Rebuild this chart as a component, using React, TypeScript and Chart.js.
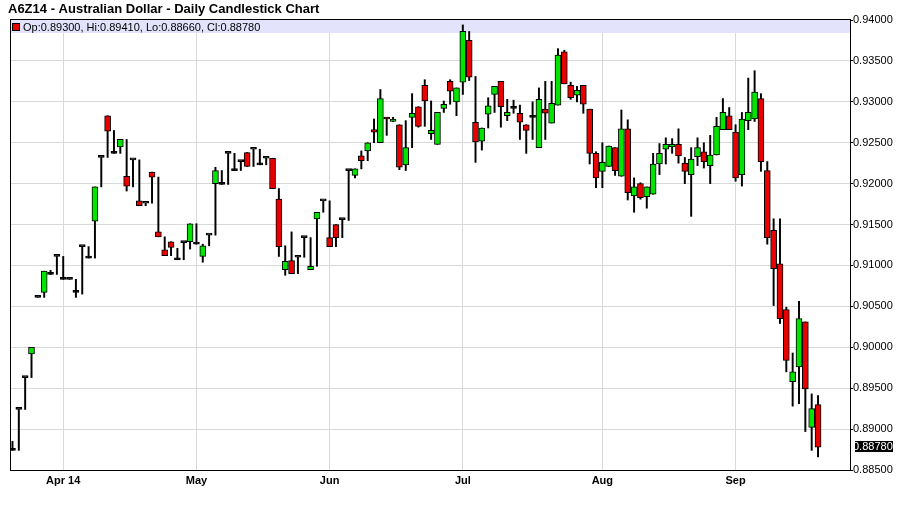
import React, { useEffect, useRef } from 'react';
import { Chart, registerables } from 'chart.js';

Chart.register(...registerables);

const chartTitle = 'A6Z14 - Australian Dollar - Daily Candlestick Chart';

const opens = [
  0.8874, 0.8924, 0.8963, 0.8992, 0.9061, 0.9067, 0.9089, 0.9111, 0.9083, 0.9083,
  0.9067, 0.9123, 0.9109, 0.9154, 0.9232, 0.9283, 0.9237, 0.9245, 0.9209, 0.9229,
  0.9179, 0.9176, 0.9214, 0.9141, 0.9119, 0.9129, 0.9107, 0.9128, 0.9129, 0.9126,
  0.9111, 0.9137, 0.9200, 0.9199, 0.9237, 0.9216, 0.9227, 0.9238, 0.9242, 0.9223,
  0.9231, 0.9231, 0.9181, 0.9095, 0.9106, 0.9110, 0.9134, 0.9095, 0.9157, 0.9179,
  0.9134, 0.9150, 0.9156, 0.9216, 0.9210, 0.9234, 0.9240, 0.9266, 0.9250, 0.9281,
  0.9276, 0.9272, 0.9223, 0.9281, 0.9294, 0.9320, 0.9261, 0.9248, 0.9292, 0.9325,
  0.9300, 0.9324, 0.9375, 0.9275, 0.9252, 0.9285, 0.9309, 0.9325, 0.9283, 0.9292,
  0.9286, 0.9272, 0.9281, 0.9244, 0.9291, 0.9274, 0.9296, 0.9361, 0.9320, 0.9308,
  0.9320, 0.9291, 0.9237, 0.9215, 0.9221, 0.9244, 0.9209, 0.9267, 0.9185, 0.9200,
  0.9184, 0.9187, 0.9224, 0.9242, 0.9245, 0.9248, 0.9225, 0.9211, 0.9233, 0.9239,
  0.9222, 0.9235, 0.9266, 0.9283, 0.9263, 0.9211, 0.9277, 0.9279, 0.9304, 0.9216,
  0.9143, 0.9102, 0.9046, 0.8958, 0.8976, 0.9031, 0.8902, 0.8930,
];

const highs = [
  0.8885, 0.8924, 0.8963, 0.9000, 0.9061, 0.9093, 0.9094, 0.9111, 0.9111, 0.9083,
  0.9083, 0.9123, 0.9123, 0.9196, 0.9232, 0.9283, 0.9265, 0.9254, 0.9254, 0.9229,
  0.9229, 0.9176, 0.9214, 0.9208, 0.9135, 0.9129, 0.9121, 0.9128, 0.9151, 0.9151,
  0.9126, 0.9137, 0.9220, 0.9216, 0.9237, 0.9237, 0.9227, 0.9238, 0.9242, 0.9242,
  0.9231, 0.9231, 0.9194, 0.9124, 0.9141, 0.9110, 0.9134, 0.9134, 0.9165, 0.9179,
  0.9179, 0.9150, 0.9156, 0.9216, 0.9218, 0.9240, 0.9250, 0.9279, 0.9315, 0.9281,
  0.9281, 0.9272, 0.9277, 0.9310, 0.9294, 0.9327, 0.9301, 0.9287, 0.9301, 0.9327,
  0.9317, 0.9394, 0.9386, 0.9331, 0.9268, 0.9305, 0.9319, 0.9325, 0.9303, 0.9302,
  0.9296, 0.9272, 0.9300, 0.9317, 0.9325, 0.9325, 0.9365, 0.9363, 0.9324, 0.9319,
  0.9320, 0.9291, 0.9239, 0.9250, 0.9246, 0.9244, 0.9290, 0.9278, 0.9207, 0.9201,
  0.9196, 0.9237, 0.9249, 0.9256, 0.9255, 0.9267, 0.9232, 0.9244, 0.9256, 0.9250,
  0.9259, 0.9281, 0.9304, 0.9293, 0.9272, 0.9287, 0.9329, 0.9338, 0.9310, 0.9227,
  0.9157, 0.9157, 0.9049, 0.8993, 0.9056, 0.9031, 0.8943, 0.8941,
];

const lows = [
  0.8874, 0.8874, 0.8924, 0.8963, 0.9061, 0.9061, 0.9089, 0.9089, 0.9083, 0.9083,
  0.9061, 0.9065, 0.9109, 0.9109, 0.9196, 0.9232, 0.9237, 0.9237, 0.9191, 0.9196,
  0.9173, 0.9173, 0.9176, 0.9135, 0.9112, 0.9112, 0.9107, 0.9107, 0.9120, 0.9126,
  0.9104, 0.9124, 0.9137, 0.9199, 0.9199, 0.9216, 0.9216, 0.9221, 0.9221, 0.9223,
  0.9223, 0.9194, 0.9111, 0.9088, 0.9090, 0.9090, 0.9110, 0.9095, 0.9099, 0.9165,
  0.9123, 0.9123, 0.9134, 0.9155, 0.9207, 0.9218, 0.9228, 0.9250, 0.9250, 0.9259,
  0.9276, 0.9217, 0.9216, 0.9244, 0.9269, 0.9270, 0.9254, 0.9248, 0.9287, 0.9297,
  0.9283, 0.9309, 0.9326, 0.9226, 0.9241, 0.9268, 0.9287, 0.9269, 0.9277, 0.9286,
  0.9254, 0.9237, 0.9254, 0.9244, 0.9254, 0.9274, 0.9296, 0.9322, 0.9303, 0.9300,
  0.9286, 0.9224, 0.9195, 0.9195, 0.9221, 0.9210, 0.9209, 0.9180, 0.9165, 0.9181,
  0.9170, 0.9187, 0.9211, 0.9224, 0.9237, 0.9225, 0.9200, 0.9160, 0.9222, 0.9219,
  0.9200, 0.9235, 0.9266, 0.9266, 0.9203, 0.9197, 0.9266, 0.9276, 0.9215, 0.9126,
  0.9051, 0.9029, 0.8970, 0.8928, 0.8931, 0.8897, 0.8874, 0.8866,
];

const closes = [
  0.8874, 0.8924, 0.8963, 0.9000, 0.9061, 0.9093, 0.9089, 0.9111, 0.9083, 0.9083,
  0.9067, 0.9123, 0.9109, 0.9196, 0.9232, 0.9264, 0.9237, 0.9254, 0.9197, 0.9229,
  0.9173, 0.9176, 0.9208, 0.9135, 0.9112, 0.9122, 0.9107, 0.9128, 0.9151, 0.9126,
  0.9124, 0.9137, 0.9216, 0.9199, 0.9237, 0.9216, 0.9227, 0.9221, 0.9242, 0.9223,
  0.9231, 0.9194, 0.9123, 0.9105, 0.9090, 0.9110, 0.9134, 0.9099, 0.9165, 0.9179,
  0.9123, 0.9134, 0.9156, 0.9216, 0.9218, 0.9228, 0.9250, 0.9263, 0.9304, 0.9279,
  0.9279, 0.9220, 0.9244, 0.9286, 0.9270, 0.9301, 0.9265, 0.9287, 0.9297, 0.9313,
  0.9317, 0.9386, 0.9330, 0.9251, 0.9268, 0.9295, 0.9319, 0.9294, 0.9287, 0.9292,
  0.9275, 0.9265, 0.9281, 0.9303, 0.9286, 0.9298, 0.9357, 0.9322, 0.9305, 0.9314,
  0.9297, 0.9237, 0.9207, 0.9226, 0.9246, 0.9216, 0.9267, 0.9189, 0.9196, 0.9183,
  0.9196, 0.9224, 0.9237, 0.9248, 0.9248, 0.9234, 0.9215, 0.9230, 0.9244, 0.9227,
  0.9235, 0.9270, 0.9287, 0.9266, 0.9207, 0.9279, 0.9287, 0.9312, 0.9227, 0.9134,
  0.9096, 0.9035, 0.8984, 0.8970, 0.9035, 0.8949, 0.8925, 0.8878,
];

const monthTickIndex = [8, 29, 50, 71, 93, 114];
const monthTickLabels = ['Apr 14', 'May', 'Jun', 'Jul', 'Aug', 'Sep'];
const priceTicks = [0.885, 0.89, 0.895, 0.9, 0.905, 0.91, 0.915, 0.92, 0.925, 0.93, 0.935, 0.94];

const GREEN = '#00e400';
const RED = '#e80000';
const GRID = '#d9d9d9';
const BAND = '#e3e3fb';
const FONT = "'Liberation Sans', Arial, sans-serif";

const overlayPlugin = {
  id: 'overlay',
  beforeDatasetsDraw(chart: any) {
    const { ctx, chartArea: a } = chart;
    ctx.save();
    ctx.fillStyle = BAND;
    ctx.fillRect(a.left, a.top, a.right - a.left, 13);
    ctx.restore();
  },
  afterDraw(chart: any) {
    const { ctx, chartArea: a, scales } = chart;
    const last = closes.length - 1;
    ctx.save();
    // frame
    ctx.strokeStyle = '#000';
    ctx.lineWidth = 1;
    ctx.strokeRect(Math.round(a.left) + 0.5, Math.round(a.top) - 0.5, Math.round(a.right - a.left), Math.round(a.bottom - a.top) + 1);
    // title
    ctx.fillStyle = '#000';
    ctx.font = `bold 13px ${FONT}`;
    ctx.textBaseline = 'alphabetic';
    ctx.textAlign = 'left';
    ctx.fillText(chartTitle, 8, 13);
    // legend
    const up = closes[last] >= opens[last];
    ctx.fillStyle = up ? GREEN : RED;
    ctx.fillRect(13, 24, 6, 6);
    ctx.strokeRect(12.5, 23.5, 7, 7);
    ctx.fillStyle = '#000';
    ctx.font = `11px ${FONT}`;
    ctx.textBaseline = 'middle';
    const legendText = `Op:${opens[last].toFixed(5)}, Hi:${highs[last].toFixed(5)}, Lo:${lows[last].toFixed(5)}, Cl:${closes[last].toFixed(5)}`;
    ctx.fillText(legendText, 23, 27.5);
    // last price box
    const y = scales.y.getPixelForValue(closes[last]);
    ctx.fillStyle = '#000';
    ctx.fillRect(a.right + 5, Math.round(y) - 6, 38, 11);
    ctx.fillStyle = '#fff';
    ctx.fillText(closes[last].toFixed(5), a.right + 3, Math.round(y) - 0.5);
    ctx.restore();
  },
};

export default function App() {
  const ref = useRef<HTMLCanvasElement>(null);
  useEffect(() => {
    const canvas = ref.current;
    if (!canvas) return;
    const bodies = opens.map((o, i) => ({ x: i, y: [o, closes[i]] }));
    const wicks = lows.map((l, i) => ({ x: i, y: [l, highs[i]] }));
    const bodyColor = (c: any) => {
      const o = opens[c.dataIndex];
      const cl = closes[c.dataIndex];
      if (o === cl) return '#000';
      return cl > o ? GREEN : RED;
    };
    const chart = new Chart(canvas, {
      type: 'bar',
      data: {
        datasets: [
          {
            label: 'body',
            data: bodies as any,
            grouped: false,
            barThickness: 6,
            minBarLength: 2,
            borderWidth: 1,
            borderColor: '#000',
            borderSkipped: false,
            backgroundColor: bodyColor,
            order: 1,
          } as any,
          {
            label: 'wick',
            data: wicks as any,
            grouped: false,
            barThickness: 1.3,
            borderWidth: 0,
            backgroundColor: '#000',
            order: 2,
          } as any,
        ],
      },
      options: {
        responsive: false,
        animation: false,
        devicePixelRatio: 1,
        layout: { padding: { left: 10, top: 20, right: 0, bottom: 0 } },
        plugins: {
          legend: { display: false },
          tooltip: { enabled: false },
          title: { display: false },
        },
        scales: {
          x: {
            type: 'linear',
            min: -0.39,
            max: 132.04,
            offset: false,
            afterBuildTicks: (s: any) => {
              s.ticks = monthTickIndex.map((v) => ({ value: v }));
            },
            afterFit: (s: any) => {
              s.height = 41;
            },
            ticks: {
              autoSkip: false,
              maxRotation: 0,
              padding: 4,
              color: '#000',
              font: { family: "'Liberation Sans Narrow', 'Liberation Sans', Arial, sans-serif", size: 11, weight: 'bold' },
              callback: (v: any) => {
                const k = monthTickIndex.indexOf(Number(v));
                return k >= 0 ? monthTickLabels[k] : '';
              },
            },
            grid: { color: GRID, drawTicks: false, offset: false },
            border: { display: true, color: '#000', width: 1 },
          },
          y: {
            type: 'linear',
            position: 'right',
            min: 0.885,
            max: 0.94,
            afterBuildTicks: (s: any) => {
              s.ticks = priceTicks.map((v) => ({ value: v }));
            },
            afterFit: (s: any) => {
              s.width = 50;
            },
            ticks: {
              padding: 0,
              color: '#000',
              font: { family: FONT, size: 11 },
              callback: (v: any) => Number(v).toFixed(5),
            },
            grid: { color: GRID, tickColor: '#000', tickLength: 3, drawTicks: true },
            border: { display: true, color: '#000', width: 1 },
          },
        },
      } as any,
      plugins: [overlayPlugin],
    });
    return () => chart.destroy();
  }, []);
  return (
    <div style={{ position: 'fixed', left: 0, top: 0, width: 900, height: 511, background: '#fff' }}>
      <canvas ref={ref} width={900} height={511} style={{ display: 'block', width: 900, height: 511 }} />
    </div>
  );
}
